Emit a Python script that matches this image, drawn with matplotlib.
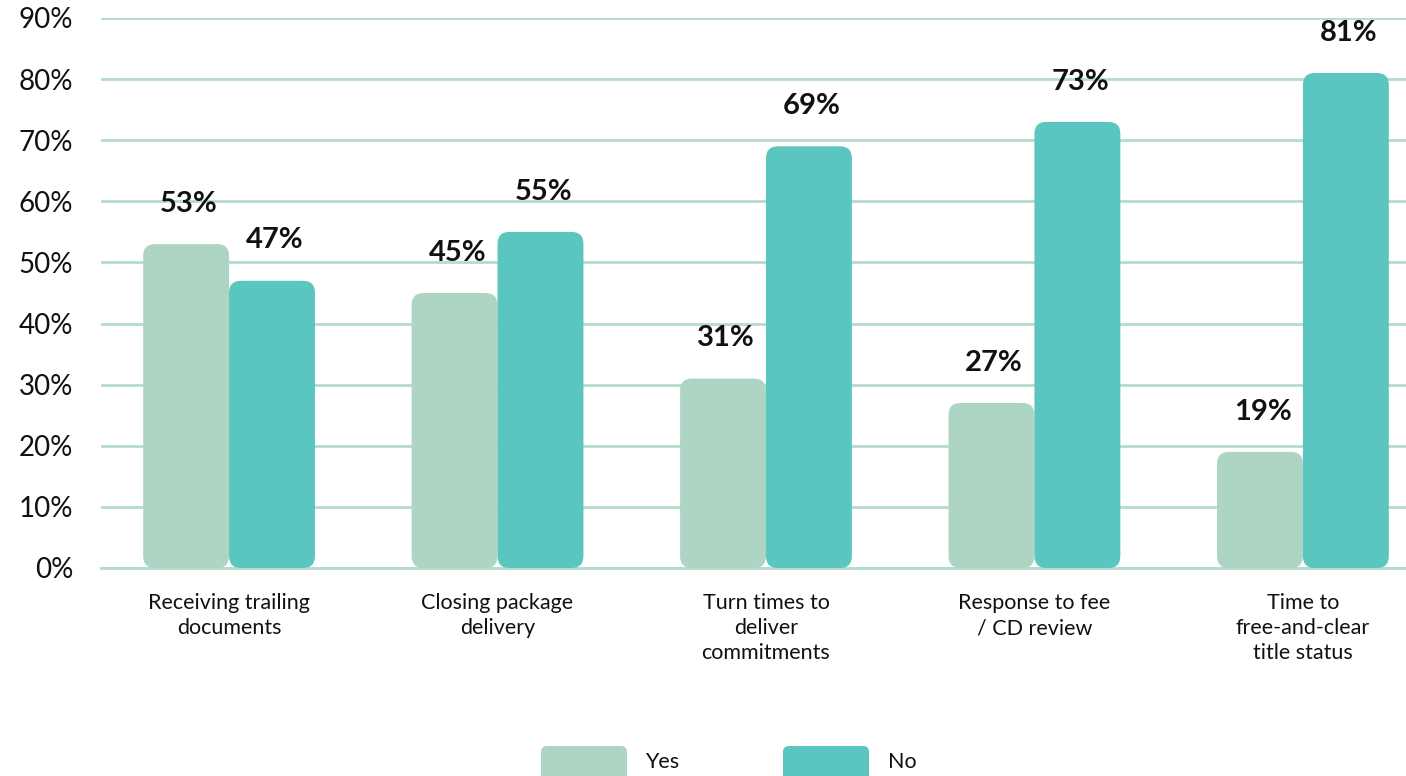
import matplotlib
matplotlib.use("Agg")
import matplotlib.pyplot as plt
from matplotlib.patches import FancyBboxPatch

plt.rcParams['font.family'] = ['Lato', 'DejaVu Sans']

categories = ["Receiving trailing\ndocuments", "Closing package\ndelivery",
              "Turn times to\ndeliver\ncommitments", "Response to fee\n/ CD review",
              "Time to\nfree-and-clear\ntitle status"]
yes_vals = [53, 45, 31, 27, 19]
no_vals = [47, 55, 69, 73, 81]
series_names = ["Yes", "No"]
yticks = [0, 10, 20, 30, 40, 50, 60, 70, 80, 90]
ytick_labels = ["0%", "10%", "20%", "30%", "40%", "50%", "60%", "70%", "80%", "90%"]

YES_COLOR = "#aed5c3"
NO_COLOR = "#5bc5bf"
GRID_COLOR = "#b3dccb"

W, H = 1406, 776
fig = plt.figure(figsize=(W / 100, H / 100), dpi=100)
ax = fig.add_axes([101 / W, 208 / H, (W - 101) / W, 550 / H])

ax.set_xlim(-0.477, 4.384)
ax.set_ylim(0, 90)

bw = 0.32
# pixel size of one data unit, used to keep rounded corners circular
px_x = (W - 101) / (4.384 + 0.477)
px_y = 550 / 90
radius = 12 / px_x
aspect = px_x / px_y

for vals, color, off in [(yes_vals, YES_COLOR, -bw / 2), (no_vals, NO_COLOR, bw / 2)]:
    for i, v in enumerate(vals):
        x0 = i + off - bw / 2
        bar = FancyBboxPatch((x0, 0), bw, v,
                             boxstyle="round,pad=0,rounding_size=%f" % radius,
                             mutation_aspect=aspect, fc=color, ec="none", zorder=3)
        ax.add_patch(bar)
        ax.annotate("%d%%" % v, (i + off + 0.01, v), xytext=(0, 29), textcoords="offset points",
                    ha="center", va="center", fontsize=21, fontweight="bold",
                    color="#111111", zorder=4)

ax.set_yticks(yticks)
ax.set_yticklabels(ytick_labels, fontsize=20, color="#111111")
ax.tick_params(axis="y", length=0, pad=20)
ax.set_xticks([])
ax.grid(axis="y", color=GRID_COLOR, linewidth=2, zorder=0)
ax.axhline(0, color=GRID_COLOR, linewidth=2, zorder=1, clip_on=False)
ax.set_axisbelow(True)
for s in ax.spines.values():
    s.set_visible(False)

for i, cat in enumerate(categories):
    ax.annotate(cat, (i, 0), xytext=(0, -18), textcoords="offset points",
                ha="center", va="top", fontsize=15.5, color="#111111", linespacing=1.32)

# legend along the bottom edge
leg_items = [(541, YES_COLOR, series_names[0], 645), (783, NO_COLOR, series_names[1], 888)]
for x0, color, name, tx in leg_items:
    patch = FancyBboxPatch((x0 / W, (H - 786) / H), 86 / W, 40 / H,
                           boxstyle="round,pad=0,rounding_size=%f" % (6 / W),
                           mutation_aspect=W / H, fc=color, ec="none",
                           transform=fig.transFigure)
    fig.add_artist(patch)
    fig.text(tx / W, (H - 762) / H, name, ha="left", va="center", fontsize=15.5, color="#111111")

fig.savefig("out.png", dpi=100)
